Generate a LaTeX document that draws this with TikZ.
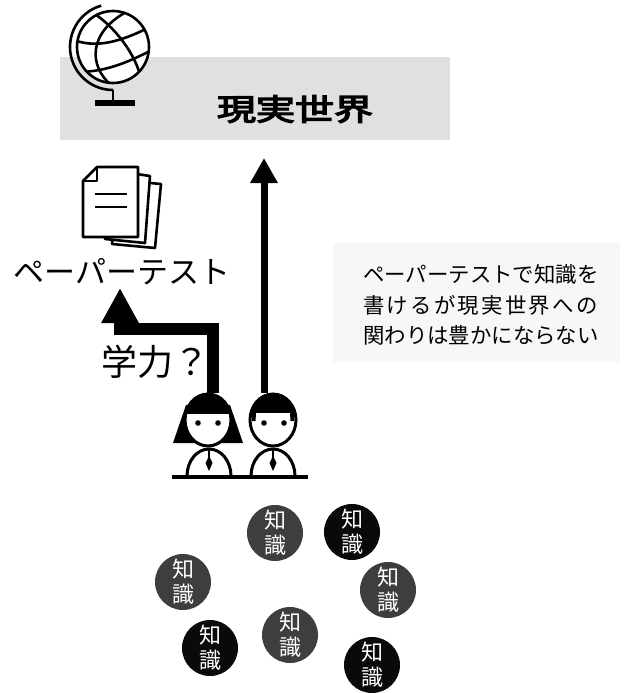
\documentclass[tikz,border=0pt]{standalone}
\usepackage{fontspec}
\usepackage{graphicx}
\newfontfamily\jp{Noto Sans CJK JP}[AutoFakeBold=4]
\usetikzlibrary{arrows.meta}
\definecolor{bandgray}{HTML}{E0E0E0}
\definecolor{notegray}{HTML}{F7F7F7}
\definecolor{dotgray}{HTML}{3E3E3E}
\definecolor{inkblack}{HTML}{0A0A0A}
\tikzset{
  icon/.style={line width=2.6pt, draw=black, line join=round},
  figline/.style={line width=3pt, draw=black},
  know/.style={circle, minimum size=56pt, inner sep=0pt, text=white, align=center,
    font=\jp\fontsize{22}{25}\selectfont},
  knowdot/.style={know, fill=dotgray},
  knowsolid/.style={know, fill=inkblack},
}
\begin{document}
\begin{tikzpicture}[x=1pt,y=-1pt]
\useasboundingbox (0,0) rectangle (628,693);
\fill[white] (0,0) rectangle (628,693);

% title band
\fill[bandgray] (60,57) rectangle (450,140);
\node[inner sep=0pt, font=\jp\bfseries\fontsize{30}{32}\selectfont] (world) at (295,109)
  {\scalebox{1.3}[1]{現実世界}};

% globe
\fill[white] (113,47) circle[radius=36];
\begin{scope}
  \clip (113,47) circle[radius=36];
  \draw[icon] (128,11) .. controls (88,32) and (88,66) .. (112,86);
  \draw[icon] (74,40) .. controls (100,50) and (128,38) .. (152,26);
  \draw[icon] (78,72) .. controls (108,72) and (132,60) .. (152,50);
  \draw[icon] (95,14) .. controls (118,30) and (140,60) .. (142,86);
\end{scope}
\draw[icon] (113,47) circle[radius=36];
\draw[icon] (113,47) ++(254:43) arc[start angle=254, end angle=90, radius=43];
\draw[icon] (113,90) -- (113,101);
\fill (95,100) rectangle (135,106);

% paper-test icon
\draw[icon, fill=white] (118,180) -- (161,184) -- (155,248) -- (112,244) -- cycle;
\draw[icon, fill=white] (110,170) -- (150,176) -- (145,243) -- (105,239) -- cycle;
\draw[icon, fill=white] (97,167) -- (138,167) -- (138,237) -- (83,237) -- (83,181) -- cycle;
\draw[icon] (83,181) -- (97,181) -- (97,167);
\draw[icon] (95,194) -- (127,194);
\draw[icon] (95,207) -- (127,207);

\node[inner sep=0pt, font=\jp\fontsize{31}{31}\selectfont] (test) at (122,272) {ペーパーテスト};
\node[inner sep=0pt, anchor=west, font=\jp\fontsize{36}{36}\selectfont] (skill) at (101,362) {学力？};

% note
\fill[notegray] (333,243) rectangle (620,362);
\node[inner sep=0pt, align=left, font=\jp\fontsize{21.4}{30.5}\selectfont] (note) at (481,305)
  {ペーパーテストで知識を\\{\addfontfeature{LetterSpace=10.5}書けるが現実世界への}\\関わりは豊かにならない};

% arrows from the two pupils
\coordinate (girltop) at (213,393);
\coordinate (boytop) at (264,393);
\coordinate (testtip) at (120,288);
\coordinate (worldtip) at (264,158);
\draw[line width=12pt, line join=miter, -{Triangle[width=35pt,length=35pt]}]
  (girltop) -- (213,329) -- (120,329) -- (testtip);
\draw[line width=7pt, -{Triangle[width=26pt,length=25pt]}] (boytop) -- (worldtip);

% girl
\begin{scope}
  \fill (186,405) -- (173,443) -- (243,443) -- (230,405) -- cycle;
  \begin{scope}
    \clip (0,0) rectangle (628,414);
    \fill (208,420) ellipse[x radius=23, y radius=26];
  \end{scope}
  \begin{scope}
    \clip (0,414) rectangle (628,693);
    \fill[white] (208,420) ellipse[x radius=22, y radius=25];
  \end{scope}
  \draw[figline] (208,420) ellipse[x radius=23, y radius=26];
  \fill (198,423) circle[radius=2.8];
  \fill (218,423) circle[radius=2.8];
  \draw[figline] (187,476) arc[start angle=180, end angle=360, x radius=22, y radius=27];
  \draw[line width=1.5pt] (209,448) -- (209,458);
  \fill (209,456) -- (212.5,463) -- (209,471) -- (205.5,463) -- cycle;
\end{scope}

% boy
\begin{scope}
  \begin{scope}
    \clip (0,0) rectangle (628,413);
    \fill (273,420) ellipse[x radius=23, y radius=26];
  \end{scope}
  \begin{scope}
    \clip (0,413) rectangle (628,693);
    \fill[white] (273,420) ellipse[x radius=21, y radius=24];
  \end{scope}
  \fill (252,413) -- (256,413) -- (255.5,421) -- (252,421) -- cycle;
  \fill (290,413) -- (294,413) -- (294,421) -- (290.5,421) -- cycle;
  \draw[figline] (273,420) ellipse[x radius=23, y radius=26];
  \fill (264,423) circle[radius=2.8];
  \fill (284,423) circle[radius=2.8];
  \draw[figline] (251,476) arc[start angle=180, end angle=360, x radius=22, y radius=27];
  \draw[line width=1.5pt] (273,448) -- (273,458);
  \fill (273,456) -- (276.5,463) -- (273,471) -- (269.5,463) -- cycle;
\end{scope}

% floor line
\draw[line width=4.5pt] (172,477) -- (308,477);

% knowledge pieces
\node[knowdot]   (k1) at (275,533) {知\\識};
\node[knowsolid] (k2) at (352,532) {知\\識};
\node[knowdot]   (k3) at (183,582) {知\\識};
\node[knowdot]   (k4) at (388,590) {知\\識};
\node[knowdot]   (k5) at (290,635) {知\\識};
\node[knowsolid] (k6) at (210,648) {知\\識};
\node[knowsolid] (k7) at (372,665) {知\\識};
\end{tikzpicture}
\end{document}
